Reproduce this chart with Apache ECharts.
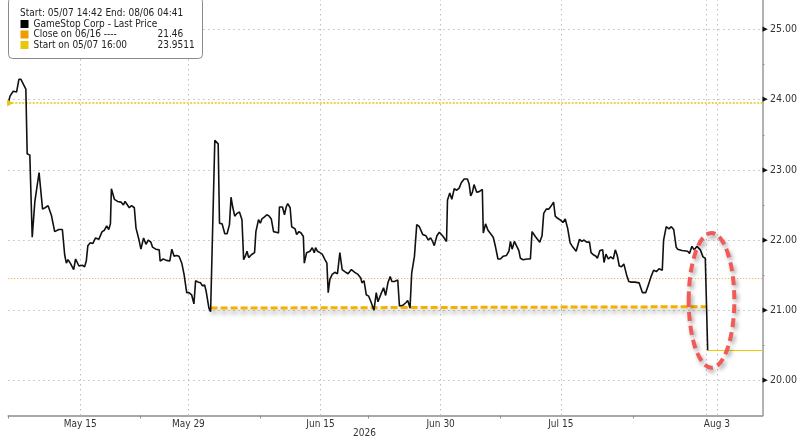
<!DOCTYPE html>
<html>
<head>
<meta charset="utf-8">
<title>GameStop Corp - Last Price</title>
<script src="https://cdn.jsdelivr.net/npm/echarts@6/dist/echarts.min.js"></script>
<style>
html, body { margin: 0; padding: 0; background: #fff; }
#main { width: 800px; height: 441px; }
</style>
</head>
<body>
<div id="main"></div>
<script>
// x: trading days since 05/07 (weekends and holidays skipped)
var times = [
  0.01,0.15,0.42,0.56,0.70,0.89,1.06,1.47,1.58,1.80,
  2.00,2.22,2.57,2.86,3.07,3.32,3.60,3.87,4.21,4.51,
  4.70,4.84,4.98,5.20,5.45,5.61,5.89,6.17,6.36,6.50,
  6.63,6.83,7.04,7.27,7.54,7.82,8.01,8.20,8.37,8.51,
  8.59,8.84,9.11,9.40,9.59,9.73,9.86,10.08,10.27,10.50,
  10.64,10.85,11.05,11.27,11.47,11.66,11.88,12.01,12.29,12.57,
  12.65,12.90,13.17,13.45,13.62,13.81,14.00,14.22,14.45,14.64,
  14.86,15.05,15.27,15.46,15.60,15.82,16.02,16.15,16.35,16.48,
  16.71,16.85,17.20,17.48,17.59,17.81,18.03,18.22,18.42,18.55,
  18.69,18.86,19.05,19.25,19.46,19.60,19.74,19.88,20.02,20.24,
  20.51,20.62,20.84,20.99,21.12,21.34,21.53,21.73,21.90,22.09,
  22.31,22.50,22.58,22.83,23.00,23.14,23.27,23.47,23.60,23.74,
  23.88,24.01,24.21,24.38,24.57,24.65,24.84,25.12,25.31,25.48,
  25.59,25.75,25.95,26.14,26.37,26.53,26.64,26.78,26.97,27.19,
  27.41,27.61,27.80,28.02,28.29,28.57,28.85,29.12,29.35,29.45,
  29.62,29.81,30.01,30.22,30.45,30.64,30.78,31.05,31.25,31.42,
  31.61,31.80,31.94,32.16,32.43,32.57,32.85,33.12,33.26,33.45,
  33.59,33.82,34.01,34.23,34.50,34.78,34.97,35.16,35.33,35.47,
  35.69,35.89,36.16,36.49,36.57,36.76,36.93,37.13,37.34,37.54,
  37.73,37.96,38.23,38.37,38.50,38.64,38.78,39.00,39.20,39.47,
  39.55,39.74,39.94,40.16,40.38,40.57,40.77,40.98,41.21,41.48,
  41.68,41.81,41.95,42.14,42.28,42.51,42.64,42.86,43.19,43.47,
  43.61,43.88,44.25,44.44,44.58,44.79,44.99,45.18,45.40,45.54,
  45.74,46.01,46.18,46.37,46.57,46.78,47.00,47.28,47.42,47.56,
  47.75,47.94,48.16,48.39,48.52,48.72,48.93,49.05,49.26,49.49,
  49.60,49.76,49.96,50.15,50.37,50.54,50.70,50.87,51.06,51.25,
  51.47,51.66,51.88,52.16,52.52,52.80,53.07,53.27,53.54,53.73,
  53.96,54.18,54.45,54.56,54.78,55.01,55.20,55.40,55.61,55.72,
  56.09,56.56,56.72,56.92,57.11,57.34,57.62,57.84,58.03,58.23
];
var prices = [
  23.95,24.05,24.12,24.13,24.11,24.29,24.29,24.15,23.23,23.21,
  22.04,22.55,22.96,22.44,22.46,22.49,22.35,22.12,22.15,22.15,
  21.79,21.67,21.72,21.66,21.58,21.73,21.63,21.64,21.62,21.70,
  21.92,21.96,21.95,22.03,22.01,22.12,22.14,22.20,22.15,22.23,
  22.73,22.58,22.55,22.54,22.50,22.55,22.54,22.46,22.49,22.46,
  22.17,22.03,21.87,22.03,21.94,22.00,21.97,21.90,21.87,21.86,
  21.70,21.73,21.71,21.70,21.87,21.77,21.78,21.77,21.67,21.51,
  21.25,21.25,21.22,21.09,21.42,21.40,21.39,21.35,21.36,21.27,
  21.03,20.98,23.42,23.37,22.24,22.23,22.09,22.09,22.22,22.61,
  22.47,22.34,22.38,22.40,22.29,21.72,21.77,21.84,21.75,21.79,
  21.82,22.12,22.29,22.24,22.30,22.33,22.36,22.34,22.30,22.12,
  22.11,22.10,22.47,22.47,22.36,22.47,22.52,22.46,22.19,22.20,
  22.16,22.08,22.12,22.10,22.05,21.67,21.82,21.84,21.89,21.82,
  21.89,21.84,21.82,21.80,21.72,21.67,21.25,21.44,21.51,21.54,
  21.52,21.82,21.58,21.55,21.52,21.58,21.54,21.51,21.46,21.39,
  21.42,21.22,21.20,21.11,21.00,21.25,21.12,21.24,21.32,21.21,
  21.39,21.48,21.41,21.41,21.43,21.06,21.07,21.11,21.14,21.03,
  21.53,21.77,22.22,22.19,22.08,22.06,22.00,22.03,21.98,21.92,
  22.06,22.11,22.06,21.98,22.57,22.67,22.58,22.73,22.71,22.74,
  22.82,22.87,22.87,22.80,22.63,22.68,22.79,22.68,22.69,22.72,
  22.10,22.23,22.14,22.09,22.04,21.90,21.73,21.73,21.77,21.78,
  21.84,21.98,21.87,21.98,21.96,21.85,21.74,21.72,21.73,21.73,
  22.12,22.05,21.97,22.06,22.38,22.44,22.44,22.48,22.54,22.34,
  22.31,22.28,22.25,22.30,22.17,21.96,21.90,21.84,21.82,22.01,
  21.98,22.00,21.97,21.97,21.82,21.79,21.77,21.74,21.85,21.86,
  21.68,21.80,21.73,21.76,21.73,21.86,21.78,21.63,21.62,21.66,
  21.51,21.41,21.40,21.40,21.39,21.25,21.25,21.35,21.49,21.57,
  21.55,21.59,21.57,22.00,22.19,22.16,22.19,22.15,21.90,21.87,
  21.85,21.84,21.81,21.91,21.86,21.91,21.86,21.76,21.74,20.43
];

var tickLabels = ['May 15', 'May 29', 'Jun 15', 'Jun 30', 'Jul 15', 'Aug 3'];
var tickDays = [6, 15, 26, 36, 46, 59];
var minorDays = [0, 11, 21, 30, 41, 52];
var extraGridDays = [58.1];
var priceTicks = [20, 21, 22, 23, 24, 25];
var priceMinor = [20.5, 21.5, 22.5, 23.5, 24.5];

var closeLevel = 21.46;      // Close on 06/16
var startLevel = 23.9511;    // Start on 05/07 16:00
var supportLine = [[16.85, 21.03], [58.1, 21.05]];
var ringCenter = [58.55, 21.14];
var ringRadius = [1.9, 0.96];

var xMax = 62.8;
var FONT = "'DejaVu Sans Condensed', 'DejaVu Sans', sans-serif";

var lineData = times.map(function (t, i) { return [t, prices[i]]; });
var lastPoint = lineData[lineData.length - 1];

var legendValues = {
    'Close on 06/16 ----': '21.46',
    'Start on 05/07 16:00': '23.9511'
};

var myChart = echarts.init(document.getElementById('main'));

var gridMarks = priceTicks.map(function (v) { return { yAxis: v }; })
    .concat(tickDays.concat(extraGridDays).map(function (v) { return { xAxis: v }; }));

var option = {
    animation: false,
    backgroundColor: '#fff',
    title: {
        text: 'Start: 05/07 14:42 End: 08/06 04:41',
        left: 20, top: 8, padding: 0, z: 12,
        textStyle: { fontFamily: FONT, fontSize: 10, fontWeight: 'normal', color: '#222' }
    },
    legend: {
        orient: 'vertical', left: 20.5, top: 19, padding: 0, z: 12,
        itemWidth: 8, itemHeight: 8, itemGap: 0.5, selectedMode: false,
        textStyle: {
            fontFamily: FONT, fontSize: 10, color: '#222', lineHeight: 9,
            rich: {
                n: { fontFamily: FONT, fontSize: 10, color: '#222', width: 124 },
                v: { fontFamily: FONT, fontSize: 10, color: '#222' }
            }
        },
        formatter: function (name) {
            var v = legendValues[name];
            return v ? '{n|' + name + '}{v|' + v + '}' : name;
        },
        data: [
            { name: 'GameStop Corp - Last Price', icon: 'rect', itemStyle: { color: '#000' } },
            { name: 'Close on 06/16 ----', icon: 'rect', itemStyle: { color: '#f29b00' } },
            { name: 'Start on 05/07 16:00', icon: 'rect', itemStyle: { color: '#e8c60a' } }
        ]
    },
    grid: { left: 8.2, right: 32.2, top: 0, bottom: 25.5 },
    xAxis: {
        type: 'value', min: 0, max: xMax,
        axisLine: { show: true, onZero: false, lineStyle: { color: '#8c8c8c', width: 1.5 } },
        axisTick: { show: true, customValues: minorDays, length: 3, lineStyle: { color: '#8c8c8c' } },
        axisLabel: {
            customValues: tickDays, margin: 4,
            fontFamily: FONT, fontSize: 10, color: '#333',
            formatter: function (v) { return tickLabels[tickDays.indexOf(v)] || ''; }
        },
        splitLine: { show: false }
    },
    yAxis: {
        type: 'value', position: 'right', min: 19.5, max: 25.42,
        axisLine: { show: true, onZero: false, lineStyle: { color: '#999', width: 1.5 } },
        axisTick: { show: true, customValues: priceMinor, length: 2, lineStyle: { color: '#999' } },
        axisLabel: {
            customValues: priceTicks, margin: 0,
            formatter: function (v) { return '{a|\u25B6}{b|' + v.toFixed(2) + '}'; },
            rich: {
                a: { fontSize: 7, color: '#111', fontFamily: 'DejaVu Sans' },
                b: { fontSize: 10.5, color: '#333', fontFamily: FONT, padding: [0, 0, 0, 2] }
            }
        },
        splitLine: { show: false }
    },
    series: [
        {
            name: 'grid', type: 'line', data: [], silent: true,
            markLine: {
                silent: true, symbol: ['none', 'none'], z: 1, label: { show: false },
                lineStyle: { color: '#bdbdbd', width: 1, type: [1.5, 3.5] },
                data: gridMarks
            }
        },
        {
            name: 'Close on 06/16 ----', type: 'line', data: [], color: '#f29b00',
            markLine: {
                silent: true, symbol: ['none', 'none'], z: 2, label: { show: false },
                lineStyle: { color: '#f6a744', width: 1, type: [1, 2] },
                data: [{ yAxis: closeLevel }]
            }
        },
        {
            name: 'Start on 05/07 16:00', type: 'line', data: [], color: '#e8c60a',
            markLine: {
                silent: true, symbol: ['none', 'none'], z: 2, label: { show: false },
                lineStyle: { color: '#e8c60a', width: 1.5, type: [2, 1.5] },
                data: [{ yAxis: startLevel }]
            },
            markPoint: {
                silent: true, symbol: 'triangle', symbolSize: [7, 6], symbolRotate: -90,
                symbolOffset: [2, 0], label: { show: false },
                itemStyle: { color: '#e8c60a' },
                data: [{ coord: [0, startLevel] }]
            }
        },
        {
            name: 'support', type: 'line', data: supportLine, showSymbol: false, silent: true, z: 3,
            lineStyle: {
                color: '#f5b000', width: 3, type: [7, 3],
                shadowColor: 'rgba(0,0,0,0.35)', shadowBlur: 5, shadowOffsetY: 4
            }
        },
        {
            name: 'GameStop Corp - Last Price', type: 'line', data: lineData,
            showSymbol: false, color: '#000', z: 4,
            lineStyle: { color: '#111', width: 1.6 },
            markLine: {
                silent: true, symbol: ['none', 'none'], z: 3, label: { show: false },
                lineStyle: { color: '#f0c800', width: 1.2, type: 'solid' },
                data: [[{ coord: lastPoint }, { coord: [xMax, lastPoint[1]] }]]
            }
        }
    ]
};

myChart.setOption(option);

// 图例框、年份和红色椭圆标注
var c = myChart.convertToPixel({ gridIndex: 0 }, ringCenter);
var e = myChart.convertToPixel({ gridIndex: 0 }, [ringCenter[0] + ringRadius[0], ringCenter[1] + ringRadius[1]]);
myChart.setOption({
    graphic: [
        {
            id: 'box', type: 'rect', z: 10, left: 8, top: -3,
            shape: { width: 194, height: 61, r: 4 },
            style: { fill: '#fff', stroke: '#8a8a8a', lineWidth: 1 }
        },
        {
            id: 'tree', type: 'group', z: 11, children: [
                { type: 'rect', shape: { x: 11.5, y: 21.5, width: 5, height: 5 }, style: { fill: '#fff', stroke: '#aaa', lineWidth: 0.8 } },
                { type: 'line', shape: { x1: 12.5, y1: 24, x2: 15.5, y2: 24 }, style: { stroke: '#aaa', lineWidth: 0.8 } },
                { type: 'line', shape: { x1: 14, y1: 27, x2: 14, y2: 45 }, style: { stroke: '#aaa', lineWidth: 0.8 } },
                { type: 'line', shape: { x1: 14, y1: 34.5, x2: 19, y2: 34.5 }, style: { stroke: '#aaa', lineWidth: 0.8 } },
                { type: 'line', shape: { x1: 14, y1: 45, x2: 19, y2: 45 }, style: { stroke: '#aaa', lineWidth: 0.8 } }
            ]
        },
        {
            id: 'year', type: 'text', left: 353, top: 428,
            style: { text: '2026', fontFamily: FONT, fontSize: 10, fill: '#333' }
        },
        {
            id: 'ring', type: 'ellipse', z: 9,
            shape: { cx: c[0], cy: c[1], rx: e[0] - c[0], ry: c[1] - e[1] },
            style: {
                fill: 'none', stroke: '#f25a58', lineWidth: 4, lineDash: [9, 5],
                shadowColor: 'rgba(0,0,0,0.35)', shadowBlur: 4, shadowOffsetX: 2, shadowOffsetY: 3
            }
        }
    ]
});
</script>
</body>
</html>
